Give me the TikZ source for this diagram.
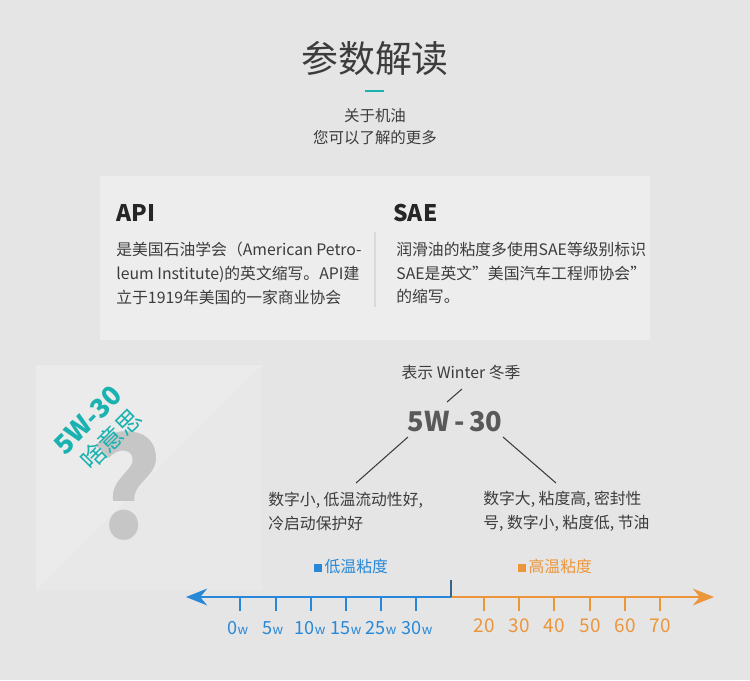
\documentclass[tikz,border=0pt]{standalone}
\usepackage{fontspec}
\setmainfont{Noto Sans CJK SC}
\usetikzlibrary{positioning,arrows.meta}

\definecolor{bgc}{HTML}{E5E5E5}
\definecolor{panelc}{HTML}{EDEDED}
\definecolor{tealc}{RGB}{26,178,176}
\definecolor{bluec}{RGB}{40,136,216}
\definecolor{orangec}{RGB}{236,150,60}
\definecolor{textc}{HTML}{3C3C3C}
\definecolor{qmarkc}{HTML}{C6C6C6}

\tikzset{
  body/.style={text=textc, inner sep=0pt, align=left, font=\fontsize{9}{13.6}\selectfont},
  head/.style={text=black!85, inner sep=0pt, font=\fontsize{13}{15}\selectfont\bfseries},
  link/.style={draw=textc, line width=.6pt},
  bluetick/.style={draw=bluec, line width=1.4pt},
  orangetick/.style={draw=orangec, line width=1.4pt},
  bluelab/.style={text=bluec, inner sep=0pt, font=\fontsize{10.3}{12}\selectfont},
  orangelab/.style={text=orangec, inner sep=0pt, font=\fontsize{10.8}{12}\selectfont}
}
\newcommand{\wsub}{{\fontsize{7.5}{9}\selectfont w}}

\begin{document}
\begin{tikzpicture}[x=0.02cm, y=-0.02cm]

		\fill[bgc] (0,0) rectangle (750,680);
		\useasboundingbox (0,0) rectangle (750,680);
		\fill[panelc] (100,176) rectangle (650,340);
		\fill[black!9] (36,365) rectangle (262,590);
		\fill[black!7.8] (36,365) -- (262,365) -- (36,590) -- cycle;

		\node[text=textc, font=\fontsize{21}{24}\selectfont] (TT) at (375,58) {参数解读};
		\draw[tealc, line width=1.7pt] (365,91) -- (384,91);
		\node[text=textc, align=center, font=\fontsize{8.8}{12.5}\selectfont] (ST) at (375,127) {关于机油\\您可以了解的更多};

		\node[head, anchor=west] (AP) at (116,213) {API};
		\node[body, anchor=west] (AB) at (116,273) {是美国石油学会（American Petro-\\leum Institute)的英文缩写。API建\\立于1919年美国的一家商业协会};
		\node[head, anchor=west] (SA) at (393,213) {SAE};
		\node[body, anchor=west] (SB) at (396,273) {润滑油的粘度多使用SAE等级别标识\\SAE是英文”美国汽车工程师协会”\\的缩写。};
		\draw[black!15, line width=.6pt] (375,232) -- (375,307);

		\node[text=qmarkc, font=\fontsize{78}{80}\selectfont\bfseries] (QQ) at (126,486) {?};
		\node[text=tealc, rotate=45, font=\fontsize{15}{17}\selectfont\bfseries] (QA) at (88,420) {5W-30};
		\node[text=tealc, rotate=45, font=\fontsize{14}{16}\selectfont] (QB) at (111,439) {啥意思};

		\node[body] (WI) at (461,373) {表示 Winter 冬季};
		\node[text=black!65, font=\fontsize{15.5}{18}\selectfont\bfseries] (FW) at (455,422) {5W\,-\,30};
		\node[body, anchor=west] (LT) at (268,511) {数字小, 低温流动性好,\\冷启动保护好};
		\node[body, anchor=west] (RT) at (483,511) {数字大, 粘度高, 密封性\\号, 数字小, 粘度低, 节油};

		\coordinate (w1) at (462,389);
		\coordinate (w2) at (447,402);
		\coordinate (l1) at (408,437);
		\coordinate (l2) at (356,483);
		\coordinate (r1) at (503,437);
		\coordinate (r2) at (556,483);
		\draw[link] (w1) -- (w2);
		\draw[link] (l1) -- (l2);
		\draw[link] (r1) -- (r2);

		\node[text=bluec, inner sep=0pt, font=\fontsize{9}{11}\selectfont] (LL) at (351,566) {\rule{4.5pt}{4.5pt}\,低温粘度};
		\node[text=orangec, inner sep=0pt, font=\fontsize{9}{11}\selectfont] (HL) at (555,566) {\rule{4.5pt}{4.5pt}\,高温粘度};

		\coordinate (MM) at (451,597);
		\coordinate (LE) at (186,597);
		\coordinate (RE) at (714,597);
		\draw[bluec, line width=1.4pt, arrows={-Stealth[length=12pt,width=9.5pt]}] (MM) -- (LE);
		\draw[orangec, line width=1.4pt, arrows={-Stealth[length=12pt,width=9.5pt]}] (MM) -- (RE);
		\draw[black!35!bluec!70!gray, line width=1.2pt] (451,580) -- (MM);

		\draw[bluetick] (240,597) -- (240,611);
		\draw[bluetick] (276,597) -- (276,611);
		\draw[bluetick] (311,597) -- (311,611);
		\draw[bluetick] (346,597) -- (346,611);
		\draw[bluetick] (381,597) -- (381,611);
		\draw[bluetick] (416,597) -- (416,611);
		\node[bluelab] (B1) at (238,628) {0\wsub};
		\node[bluelab] (B2) at (273,628) {5\wsub};
		\node[bluelab] (B3) at (310,628) {10\wsub};
		\node[bluelab] (B4) at (346,628) {15\wsub};
		\node[bluelab] (B5) at (381,628) {25\wsub};
		\node[bluelab] (B6) at (417,628) {30\wsub};

		\draw[orangetick] (484,597) -- (484,611);
		\draw[orangetick] (519,597) -- (519,611);
		\draw[orangetick] (554,597) -- (554,611);
		\draw[orangetick] (590,597) -- (590,611);
		\draw[orangetick] (625,597) -- (625,611);
		\draw[orangetick] (660,597) -- (660,611);
		\node[orangelab] (O1) at (484,626) {20};
		\node[orangelab] (O2) at (519,626) {30};
		\node[orangelab] (O3) at (554,626) {40};
		\node[orangelab] (O4) at (590,626) {50};
		\node[orangelab] (O5) at (625,626) {60};
		\node[orangelab] (O6) at (660,626) {70};
	\end{tikzpicture}
\end{document}
